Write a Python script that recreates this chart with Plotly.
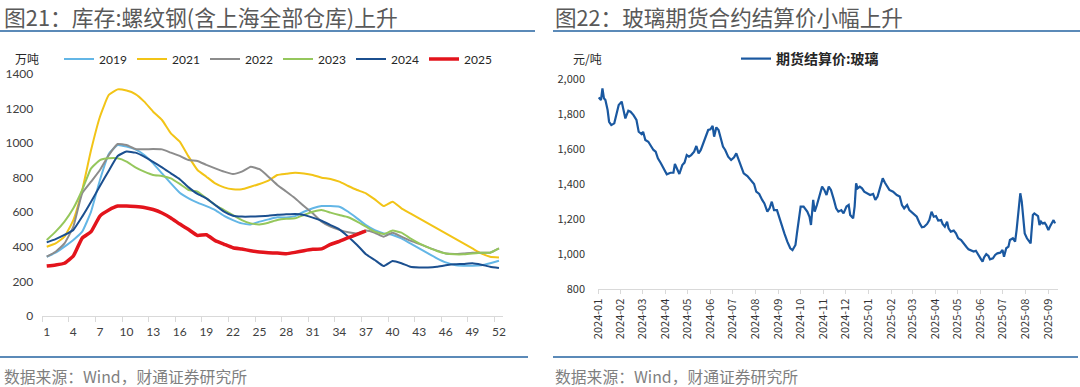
import plotly.graph_objects as go

# ---------------- Left chart data: rebar inventory (万吨), by week ----------------
weeks = list(range(1, 53))
inv_2019 = [343,366,401,440,488,604,787,937,989,980,964,931,883,825,767,713,681,656,636,613,
            579,555,536,530,546,559,571,570,578,603,623,636,636,632,603,565,526,497,478,469,
            449,420,391,362,334,310,295,291,291,293,305,320]
inv_2021 = [401,420,459,555,729,960,1153,1279,1311,1304,1284,1240,1182,1134,1057,1009,922,845,806,767,
            744,733,733,748,764,783,816,823,829,825,816,800,793,777,752,729,710,675,636,661,
            623,594,565,536,507,478,449,420,391,362,343,339]
inv_2022 = [343,372,420,517,710,777,845,931,995,989,966,964,966,964,945,926,902,897,874,854,
            835,821,835,864,849,806,758,720,681,636,594,546,517,498,484,478,494,482,459,482,
            459,436,417,397,378,362,359,362,366,366,366,391]
inv_2023 = [440,488,546,623,729,854,902,912,912,893,860,835,816,810,796,764,729,719,681,642,
            613,584,555,536,530,540,555,562,565,584,603,613,598,584,571,546,517,488,474,494,
            482,449,420,397,376,362,357,357,362,366,366,391]
inv_2024 = [426,445,469,498,575,661,752,841,926,951,945,922,891,860,825,791,744,706,681,642,
            604,580,575,575,577,580,586,588,590,584,569,551,526,501,459,411,357,324,289,318,
            305,285,281,281,285,293,299,301,305,297,285,278]
inv_2025 = [289,295,305,347,451,488,578,613,636,636,633,628,616,596,567,532,500,466,470,436,
            415,395,387,378,370,366,364,360,368,378,386,388,414,432,453,472,492]
week_ticks = list(range(1, 53, 3))

# ---------------- Right chart data: glass futures settlement price (元/吨) ----------------
glass_dates = [
 "2024-01-02","2024-01-05","2024-01-07","2024-01-08","2024-01-09","2024-01-11","2024-01-14","2024-01-16","2024-01-19","2024-01-23",
 "2024-01-26","2024-01-29","2024-02-02","2024-02-04","2024-02-07","2024-02-11","2024-02-14","2024-02-18","2024-02-22","2024-02-25",
 "2024-02-29","2024-03-02","2024-03-05","2024-03-09","2024-03-12","2024-03-16","2024-03-19","2024-03-22","2024-03-26","2024-03-30",
 "2024-04-03","2024-04-08","2024-04-12","2024-04-14","2024-04-17","2024-04-20","2024-04-24","2024-04-27","2024-04-30","2024-05-03",
 "2024-05-06","2024-05-10","2024-05-13","2024-05-16","2024-05-19","2024-05-22","2024-05-25","2024-05-29","2024-06-01","2024-06-04",
 "2024-06-06","2024-06-09","2024-06-12","2024-06-15","2024-06-18","2024-06-21","2024-06-25","2024-06-29","2024-07-03","2024-07-06",
 "2024-07-09","2024-07-13","2024-07-16","2024-07-21","2024-07-25","2024-07-30","2024-08-02","2024-08-06","2024-08-10","2024-08-13",
 "2024-08-17","2024-08-20","2024-08-23","2024-08-26","2024-08-30","2024-09-01","2024-09-06","2024-09-09","2024-09-13","2024-09-17",
 "2024-09-20","2024-09-24","2024-09-26","2024-09-30","2024-10-01","2024-10-05","2024-10-10","2024-10-13","2024-10-15","2024-10-18",
 "2024-10-20","2024-10-23","2024-10-27","2024-10-30","2024-11-02","2024-11-05","2024-11-08","2024-11-11","2024-11-15","2024-11-18",
 "2024-11-21","2024-11-25","2024-11-28","2024-12-02","2024-12-05","2024-12-07","2024-12-11","2024-12-13","2024-12-15","2024-12-17",
 "2024-12-20","2024-12-23","2024-12-26","2024-12-30","2025-01-03","2025-01-07","2025-01-10","2025-01-13","2025-01-17","2025-01-20",
 "2025-01-23","2025-01-26","2025-01-29","2025-02-03","2025-02-08","2025-02-12","2025-02-15","2025-02-18","2025-02-22","2025-02-25",
 "2025-03-02","2025-03-05","2025-03-07","2025-03-11","2025-03-14","2025-03-17","2025-03-21","2025-03-24","2025-03-27","2025-03-30",
 "2025-04-02","2025-04-05","2025-04-09","2025-04-11","2025-04-14","2025-04-17","2025-04-19","2025-04-22","2025-04-26","2025-04-29",
 "2025-05-02","2025-05-06","2025-05-09","2025-05-13","2025-05-16","2025-05-19","2025-05-23","2025-05-26","2025-05-29","2025-06-02",
 "2025-06-04","2025-06-06","2025-06-09","2025-06-12","2025-06-14","2025-06-18","2025-06-21","2025-06-24","2025-06-28","2025-07-01",
 "2025-07-03","2025-07-06","2025-07-09","2025-07-11","2025-07-15","2025-07-18","2025-07-20","2025-07-22","2025-07-25","2025-07-27",
 "2025-07-29","2025-07-31","2025-08-03","2025-08-06","2025-08-08","2025-08-09","2025-08-11","2025-08-13","2025-08-16","2025-08-18",
 "2025-08-20","2025-08-22","2025-08-24","2025-08-27","2025-08-29","2025-09-01","2025-09-03","2025-09-06","2025-09-08","2025-09-10"]
glass_price = [
 1895,1880,1947,1928,1890,1880,1823,1756,1737,1747,
 1794,1852,1871,1833,1775,1819,1813,1794,1766,1699,
 1686,1699,1652,1642,1623,1595,1585,1547,1519,1490,
 1456,1465,1465,1515,1481,1458,1509,1523,1566,1557,
 1566,1585,1618,1576,1595,1633,1671,1709,1713,1732,
 1671,1724,1709,1652,1614,1595,1557,1538,1553,1576,
 1538,1490,1462,1446,1424,1401,1357,1344,1310,1290,
 1243,1262,1300,1252,1252,1224,1148,1119,1072,1034,
 1024,1053,1119,1224,1272,1272,1243,1214,1167,1310,
 1243,1281,1348,1386,1367,1338,1386,1367,1310,1262,
 1243,1252,1233,1272,1281,1224,1205,1272,1405,1376,
 1386,1376,1357,1348,1338,1344,1310,1329,1386,1433,
 1408,1386,1367,1357,1338,1329,1281,1262,1281,1252,
 1233,1224,1214,1176,1154,1157,1173,1195,1243,1214,
 1218,1192,1195,1173,1157,1186,1148,1129,1135,1119,
 1091,1081,1062,1043,1028,1024,1015,1020,996,971,
 958,982,1001,990,971,977,996,1005,1009,1024,
 986,1034,1043,1081,1091,1072,1138,1214,1348,1300,
 1195,1119,1091,1072,1062,1119,1224,1233,1224,1218,
 1167,1186,1176,1180,1167,1138,1157,1186,1195,1176]

W, H = 1080, 387
def px(x):
    return x / W
def py(y):
    return 1 - y / H

CJK = "Noto Sans CJK SC"
TICK = "Lato"

fig = go.Figure()

series = [
    ("2019", inv_2019, "#63B6E6", 2),
    ("2021", inv_2021, "#F2C417", 2),
    ("2022", inv_2022, "#8C8C8C", 2),
    ("2023", inv_2023, "#95C75C", 2),
    ("2024", inv_2024, "#1B4F8F", 2),
    ("2025", inv_2025, "#E3141C", 3.5),
]
for name, vals, col, w in series:
    fig.add_trace(go.Scatter(x=weeks[:len(vals)], y=vals, name=name, mode="lines",
                             line=dict(color=col, width=w, shape="spline", smoothing=0.4),
                             xaxis="x", yaxis="y", legend="legend"))

fig.add_trace(go.Scatter(x=glass_dates, y=glass_price, name="期货结算价:玻璃", mode="lines",
                         line=dict(color="#1A58A0", width=2.2),
                         xaxis="x2", yaxis="y2", legend="legend2"))

fig.update_layout(
    width=W, height=H,
    margin=dict(l=0, r=0, t=0, b=0, autoexpand=False),
    paper_bgcolor="white", plot_bgcolor="white",
    showlegend=True,
    xaxis=dict(domain=[px(42.3), px(503.4)], range=[0.5, 52.5], automargin=False,
               tickmode="array", tickvals=week_ticks, ticktext=[str(t) for t in week_ticks],
               ticks="", showgrid=False, zeroline=False,
               showline=True, linecolor="#D9D9D9", linewidth=1,
               tickfont=dict(family=TICK, size=12, color="#404040"),
               ticklabelstandoff=5,
               minor=dict(ticks="outside", tick0=0.5, dtick=3, ticklen=5,
                          tickcolor="#D9D9D9", showgrid=False)),
    yaxis=dict(domain=[py(316), py(74)], range=[0, 1400], dtick=200, automargin=False,
               showgrid=False, zeroline=False, showline=False, ticks="",
               tickfont=dict(family=TICK, size=12, color="#404040"),
               ticklabelstandoff=8),
    xaxis2=dict(domain=[px(598), px(1058)], type="date", automargin=False,
                range=["2024-01-01", "2025-09-14"],
                tick0="2024-01-01", dtick="M1", tickformat="%Y-%m", tickangle=-90,
                ticks="outside", ticklen=4, tickcolor="#D9D9D9",
                showgrid=False, zeroline=False,
                showline=True, linecolor="#D9D9D9", linewidth=1,
                tickfont=dict(family=CJK, size=11, color="#333333"),
                anchor="y2"),
    yaxis2=dict(domain=[py(289.3), py(79)], range=[800, 2000], dtick=200, automargin=False,
                tickformat=",d", showgrid=False, zeroline=False, showline=False, ticks="",
                tickfont=dict(family=CJK, size=11, color="#333333"),
                ticklabelstandoff=12, anchor="x2"),
    legend=dict(orientation="h", x=px(59), y=py(59), xanchor="left", yanchor="middle",
                font=dict(family=TICK, size=12, color="#262626"),
                entrywidth=28, entrywidthmode="pixels", itemwidth=30,
                bgcolor="rgba(0,0,0,0)", traceorder="normal"),
    legend2=dict(orientation="h", x=px(736), y=py(59), xanchor="left", yanchor="middle",
                 font=dict(family=CJK, size=14, color="#262626", weight="bold"),
                 bgcolor="rgba(0,0,0,0)"),
)

# Titles
fig.add_annotation(x=px(2), y=py(16), xref="paper", yref="paper", xanchor="left", yanchor="middle",
                   text="图21：库存:螺纹钢(含上海全部仓库)上升", showarrow=False,
                   font=dict(family=CJK, size=21.8, color="#595959"))
fig.add_annotation(x=px(553), y=py(16), xref="paper", yref="paper", xanchor="left", yanchor="middle",
                   text="图22：玻璃期货合约结算价小幅上升", showarrow=False,
                   font=dict(family=CJK, size=21.6, color="#595959"))
# Unit labels
fig.add_annotation(x=px(27), y=py(58), xref="paper", yref="paper", xanchor="center", yanchor="middle",
                   text="万吨", showarrow=False, font=dict(family=CJK, size=12, color="#262626"))
fig.add_annotation(x=px(587), y=py(58), xref="paper", yref="paper", xanchor="center", yanchor="middle",
                   text="元/吨", showarrow=False, font=dict(family=CJK, size=12, color="#262626"))
# Sources
for x0 in (2, 553):
    fig.add_annotation(x=px(x0), y=py(376), xref="paper", yref="paper", xanchor="left", yanchor="middle",
                       text="数据来源：Wind，财通证券研究所", showarrow=False,
                       font=dict(family=CJK, size=15.8, color="#7F7F7F"))
# Rules
rules = [(0, 535, 31), (553, 1080, 31), (0, 528, 357), (553, 1078, 357)]
for x0, x1, yy in rules:
    fig.add_shape(type="line", xref="paper", yref="paper",
                  x0=px(x0), x1=px(x1), y0=py(yy), y1=py(yy),
                  line=dict(color="#2563A0", width=1.5))

fig.write_html("out.html", config={"displayModeBar": False},
               post_script="document.body.style.margin='0';document.body.style.padding='0';")
